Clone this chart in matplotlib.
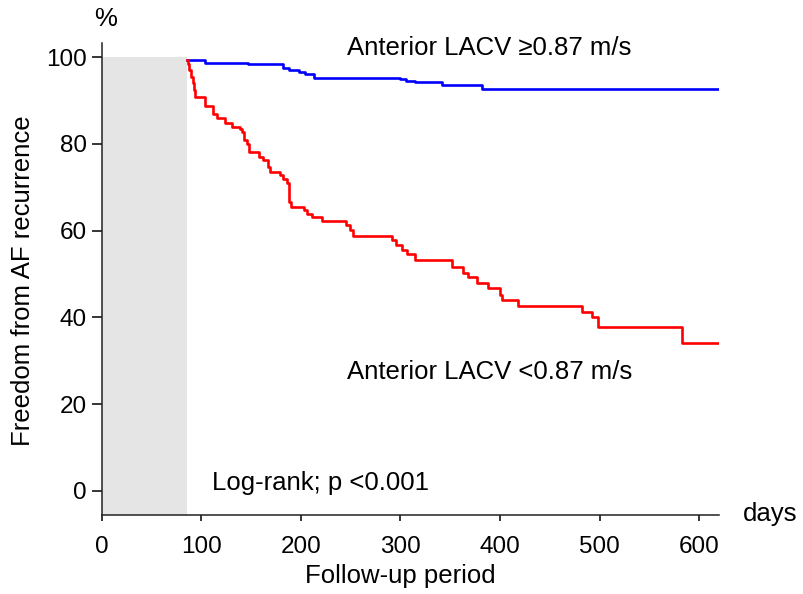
import matplotlib.pyplot as plt

plt.rcParams['font.family'] = ['Liberation Sans', 'DejaVu Sans']

# blanking period (days) shown as grey box
blank_end = 85.7

# high velocity group (blue), step curve, values in %
high_days = [85.7, 104, 147, 182, 188, 198, 204, 213, 300, 306, 315, 342, 382, 620]
high_surv = [99.4, 98.8, 98.4, 97.6, 97.0, 96.6, 96.1, 95.3, 95.0, 94.6, 94.2, 93.7, 92.8, 92.8]

# low velocity group (red)
low_days = [86, 87, 88, 90, 91.5, 93, 94, 104, 112, 116, 124, 131, 139, 141, 143, 146,
            147.5, 157.5, 162, 167, 169, 179, 182.5, 186, 188, 190, 202.7, 206, 211, 221,
            245.5, 249.5, 252, 291.4, 296, 302, 307, 315, 351.6, 363, 368, 377, 388, 400,
            401.6, 418.4, 482, 492, 498.7, 582.4, 620]
low_surv = [99.4, 98.5, 97.0, 95.5, 94.0, 92.5, 90.9, 88.8, 87.0, 85.9, 84.9, 83.9, 83.5, 82.8, 80.9, 80.1,
            78.2, 77.0, 76.3, 74.7, 73.6, 72.8, 72.0, 70.9, 66.6, 65.5, 64.7, 63.8, 63.2, 62.3,
            61.3, 60.1, 58.7, 57.8, 56.6, 55.5, 54.7, 53.2, 51.6, 50.3, 49.2, 47.9, 46.7, 45.1,
            44.0, 42.6, 41.3, 40.1, 37.8, 34.1, 34.1]

x_ticks = [0, 100, 200, 300, 400, 500, 600]
y_ticks = [0, 20, 40, 60, 80, 100]

fig = plt.figure(figsize=(8.04, 5.94), dpi=100)
ax = fig.add_axes([0.1265, 0.133, 0.768, 0.7946])

ax.fill_between([0, blank_end], -5.6, 100, color='#e5e5e5', linewidth=0)
ax.step(high_days, high_surv, where='post', color='#0000ff', linewidth=1.9)
ax.step(low_days, low_surv, where='post', color='#ff0000', linewidth=1.9)

ax.set_xlim(0, 620)
ax.set_ylim(-5.6, 103.3)
ax.set_xticks(x_ticks)
ax.set_yticks(y_ticks)

for s in ['top', 'right']:
    ax.spines[s].set_visible(False)
for s in ['left', 'bottom']:
    ax.spines[s].set_linewidth(1.1)
    ax.spines[s].set_color('#222222')

ax.tick_params(axis='x', direction='out', length=4, width=1.1, pad=11, labelsize=17.5)
ax.tick_params(axis='y', direction='out', length=7.5, width=1.1, pad=3, labelsize=17.5)
# the 0 day label sits a little right of the axis corner
ax.get_xticklabels()[0].set_x(4)

ax.text(389.5, 102.1, 'Anterior LACV \u22650.87 m/s', ha='center', va='center', fontsize=18.5)
ax.text(389.5, 27.4, 'Anterior LACV <0.87 m/s', ha='center', va='center', fontsize=18.5)
ax.text(110.8, 1.8, 'Log-rank; p <0.001', ha='left', va='center', fontsize=18.5)

fig.text(106 / 804, 1 - 19 / 594, '%', ha='center', va='center', fontsize=18.5)
fig.text(770 / 804, 1 - 514 / 594, 'days', ha='center', va='center', fontsize=18.5)
fig.text(400 / 804, 1 - 576 / 594, 'Follow-up period', ha='center', va='center', fontsize=18.5)
fig.text(23 / 804, 1 - 281 / 594, 'Freedom from AF recurrence', ha='center', va='center',
         rotation=90, fontsize=18.5)

plt.savefig('out.png', dpi=100)
